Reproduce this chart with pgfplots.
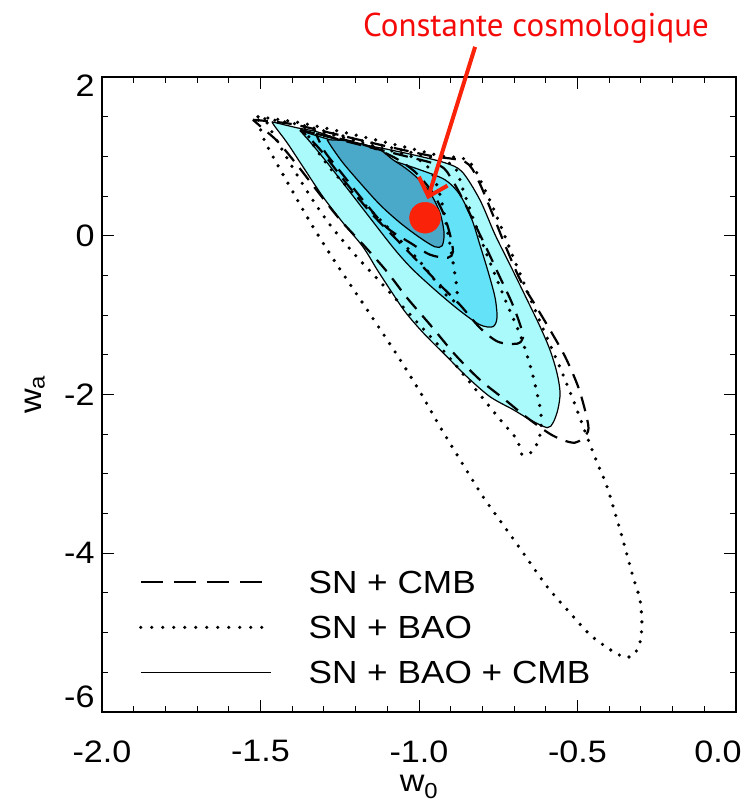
\documentclass[border=0pt]{standalone}
\usepackage{pgfplots}
\pgfplotsset{compat=1.18}
\usetikzlibrary{arrows.meta}
\usepackage{fontspec}
\setmainfont{Liberation Sans}[FakeStretch=1.1]
\newfontfamily\titlefont{PT Sans}
\definecolor{lightc}{RGB}{170,250,252}
\definecolor{mediumc}{RGB}{100,226,247}
\definecolor{darkc}{RGB}{74,168,200}
\definecolor{dotred}{RGB}{250,35,10}
\definecolor{txtred}{RGB}{245,10,10}
\begin{document}
\begin{tikzpicture}
\begin{axis}[
  scale only axis, width=634pt, height=635pt,
  xmin=-2, xmax=0, ymin=-6, ymax=2,
  xtick={-2,-1.5,-1,-0.5,0}, ytick={-6,-4,-2,0,2},
  xticklabels={-2.0,-1.5,-1.0,-0.5,\hspace*{-36pt}0.0},
  yticklabels={\raisebox{15pt}[\height][\depth]{-6},-4,-2,0,\raisebox{-9pt}[\height][\depth]{2}},
  minor x tick num=4, minor y tick num=3,
  xtick pos=both, ytick pos=both,
  tick align=inside, major tick length=12pt, minor tick length=6pt,
  tick style={black, line width=1pt},
  axis line style={line width=1.3pt},
  tick label style={font=\fontsize{31}{33}\selectfont},
  xticklabel style={yshift=-25pt},
  yticklabel style={xshift=-4pt},
  xlabel={w\textsubscript{0}}, ylabel={w\textsubscript{a}},
  label style={font=\fontsize{31}{33}\selectfont},
  xlabel style={at={(axis description cs:0.5,-0.118)}, anchor=center},
  ylabel style={at={(axis description cs:-0.106,0.5)}, anchor=center},
  clip=false,
  legend image code/.code={\draw[#1] (0pt,0pt) -- (130pt,0pt);},
  legend style={at={(axis description cs:0.058,0.044)}, anchor=south west,
    draw=none, fill=none, inner sep=0pt, row sep=22pt,
    font=\fontsize{32}{34}\selectfont,
    nodes={inner sep=0pt, text height=23pt, text depth=0pt},
    /tikz/every odd column/.append style={column sep=36pt}},
  legend cell align=left,
]
% filled SN+BAO+CMB
\addplot[forget plot, fill=lightc, draw=black, line width=1.2pt, smooth, tension=0.5] coordinates {
(-1.464,1.436) (-1.385,1.360) (-1.322,1.310) (-1.227,1.184) (-1.123,1.108) (-1.019,1.020) (-0.918,0.919) (-0.864,0.806) (-0.808,0.453) (-0.760,0.013) (-0.713,-0.365) (-0.659,-0.806) (-0.618,-1.146) (-0.587,-1.436) (-0.565,-1.725) (-0.555,-1.977) (-0.562,-2.191) (-0.577,-2.355) (-0.596,-2.418) (-0.650,-2.317) (-0.703,-2.191) (-0.776,-2.028) (-0.849,-1.776) (-0.912,-1.524) (-0.987,-1.222) (-1.044,-0.957) (-1.091,-0.680) (-1.132,-0.428) (-1.177,-0.139) (-1.240,0.164) (-1.303,0.491) (-1.366,0.869) (-1.416,1.171) (-1.454,1.373) (-1.464,1.436)};
\addplot[forget plot, fill=mediumc, draw=black, line width=1.2pt, smooth, tension=0.5] coordinates {
(-1.375,1.322) (-1.281,1.209) (-1.186,1.083) (-1.091,0.957) (-0.997,0.831) (-0.918,0.705) (-0.871,0.516) (-0.833,0.202) (-0.808,-0.113) (-0.782,-0.453) (-0.760,-0.781) (-0.754,-1.033) (-0.767,-1.146) (-0.808,-1.121) (-0.871,-0.945) (-0.943,-0.705) (-1.019,-0.428) (-1.076,-0.176) (-1.155,0.227) (-1.233,0.630) (-1.297,0.957) (-1.344,1.184) (-1.375,1.322)};
\addplot[forget plot, fill=darkc, draw=black, line width=1.2pt, smooth, tension=0.5] coordinates {
(-1.290,1.209) (-1.227,1.196) (-1.170,1.146) (-1.123,1.083) (-1.082,0.957) (-1.044,0.856) (-1.006,0.730) (-0.965,0.542) (-0.934,0.290) (-0.921,0.038) (-0.927,-0.126) (-0.950,-0.139) (-0.997,-0.025) (-1.060,0.164) (-1.123,0.390) (-1.186,0.667) (-1.240,0.919) (-1.274,1.108) (-1.290,1.209)};
% SN+CMB dashed
\addplot[forget plot, black, line width=2.2pt, dash pattern=on 15pt off 9pt, smooth, tension=0.5] coordinates {
(-1.524,1.461) (-1.407,1.411) (-1.281,1.297) (-1.123,1.146) (-0.965,1.008) (-0.855,0.932) (-0.814,0.705) (-0.767,0.264) (-0.729,-0.113) (-0.681,-0.554) (-0.634,-0.869) (-0.587,-1.184) (-0.539,-1.524) (-0.498,-1.902) (-0.473,-2.254) (-0.467,-2.468) (-0.508,-2.607) (-0.577,-2.519) (-0.659,-2.292) (-0.729,-2.065) (-0.808,-1.814) (-0.886,-1.499) (-0.965,-1.121) (-1.038,-0.781) (-1.101,-0.453) (-1.170,-0.139) (-1.249,0.202) (-1.319,0.554) (-1.385,0.894) (-1.445,1.184) (-1.495,1.360) (-1.524,1.461)};
\addplot[forget plot, black, line width=2.2pt, dash pattern=on 15pt off 9pt, smooth, tension=0.5] coordinates {
(-1.375,1.335) (-1.312,1.272) (-1.186,1.146) (-1.060,1.020) (-0.934,0.882) (-0.896,0.705) (-0.861,0.453) (-0.823,0.139) (-0.785,-0.176) (-0.744,-0.529) (-0.707,-0.844) (-0.681,-1.121) (-0.672,-1.285) (-0.691,-1.360) (-0.751,-1.335) (-0.808,-1.159) (-0.871,-0.869) (-0.934,-0.617) (-1.003,-0.327) (-1.076,-0.025) (-1.155,0.302) (-1.233,0.680) (-1.306,1.058) (-1.350,1.247) (-1.375,1.335)};
\addplot[forget plot, black, line width=2.2pt, dash pattern=on 15pt off 9pt, smooth, tension=0.5] coordinates {
(-1.325,1.285) (-1.249,1.222) (-1.155,1.121) (-1.076,0.982) (-1.013,0.806) (-0.959,0.554) (-0.924,0.290) (-0.902,0.013) (-0.893,-0.202) (-0.909,-0.277) (-0.965,-0.239) (-1.028,-0.088) (-1.101,0.101) (-1.170,0.416) (-1.240,0.768) (-1.297,1.058) (-1.325,1.285)};
% SN+BAO dotted
\addplot[forget plot, black, line width=3.6pt, line cap=round, dash pattern=on 0pt off 10pt, smooth, tension=0.5] coordinates {
(-1.360,1.360) (-1.249,1.247) (-1.123,1.108) (-1.013,0.982) (-0.965,0.831) (-0.934,0.516) (-0.912,0.101) (-0.893,-0.327) (-0.880,-0.680) (-0.883,-0.806) (-0.902,-0.806) (-0.934,-0.642) (-0.997,-0.327) (-1.085,0.050) (-1.177,0.416) (-1.271,0.806) (-1.334,1.146) (-1.360,1.360)};
\addplot[forget plot, black, line width=3.6pt, line cap=round, dash pattern=on 0pt off 10pt, smooth, tension=0.5] coordinates {
(-1.486,1.474) (-1.375,1.398) (-1.218,1.234) (-1.060,1.083) (-0.934,0.957) (-0.886,0.856) (-0.861,0.579) (-0.830,0.227) (-0.792,-0.176) (-0.754,-0.554) (-0.719,-0.894) (-0.681,-1.247) (-0.650,-1.625) (-0.628,-1.977) (-0.615,-2.254) (-0.618,-2.506) (-0.640,-2.708) (-0.675,-2.758) (-0.691,-2.569) (-0.744,-2.317) (-0.808,-2.002) (-0.912,-1.499) (-1.019,-1.033) (-1.123,-0.579) (-1.202,-0.239) (-1.281,0.139) (-1.350,0.542) (-1.413,0.957) (-1.464,1.310) (-1.486,1.474)};
\addplot[forget plot, black, line width=3.6pt, line cap=round, dash pattern=on 0pt off 10pt, smooth, tension=0.5] coordinates {
(-1.508,1.499) (-1.375,1.423) (-1.218,1.285) (-1.060,1.133) (-0.934,1.008) (-0.845,0.945) (-0.792,0.579) (-0.744,0.139) (-0.697,-0.327) (-0.650,-0.781) (-0.603,-1.222) (-0.555,-1.662) (-0.514,-2.065) (-0.476,-2.468) (-0.438,-2.859) (-0.407,-3.161) (-0.366,-3.703) (-0.325,-4.294) (-0.303,-4.584) (-0.297,-4.874) (-0.303,-5.126) (-0.325,-5.289) (-0.356,-5.302) (-0.397,-5.214) (-0.461,-5.025) (-0.533,-4.710) (-0.596,-4.420) (-0.672,-3.992) (-0.735,-3.640) (-0.798,-3.287) (-0.861,-2.884) (-0.934,-2.405) (-0.997,-1.965) (-1.076,-1.461) (-1.170,-0.894) (-1.265,-0.327) (-1.344,0.176) (-1.407,0.617) (-1.464,1.020) (-1.495,1.272) (-1.508,1.499)};
% cosmological constant
\addplot[forget plot, only marks, mark=*, mark size=15.5pt, color=dotred] coordinates {(-0.981,0.227)};
\draw[dotred, line width=4pt, -{Straight Barb[length=16pt, width=30pt, line width=4pt]}] (axis cs:-0.823,2.38) -- (axis cs:-0.973,0.46);
\node[font=\titlefont\fontsize{33}{35}\selectfont, text=txtred, anchor=center] at (axis cs:-0.631,2.62) {Constante cosmologique};
% legend
\addlegendimage{black, line width=2.2pt, dash pattern=on 22pt off 11pt}
\addlegendentry{SN + CMB}
\addlegendimage{black, line width=3.6pt, line cap=round, dash pattern=on 0pt off 11pt}
\addlegendentry{SN + BAO}
\addlegendimage{black, line width=1.3pt}
\addlegendentry{SN + BAO + CMB}
\end{axis}
\pgfresetboundingbox
\path ([shift={(-102pt,-90pt)}]current axis.south west) rectangle ([shift={(11pt,77pt)}]current axis.north east);
\end{tikzpicture}
\end{document}
